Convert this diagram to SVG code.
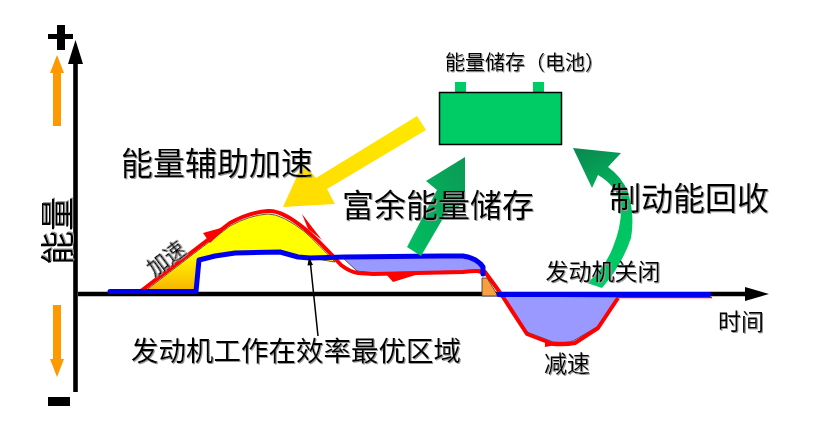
<svg xmlns="http://www.w3.org/2000/svg" width="827" height="430" viewBox="0 0 827 430">
<defs>
<style>
text{font-family:"Noto Sans CJK SC","Noto Sans",sans-serif;fill:#000;text-anchor:middle;dominant-baseline:central;filter:url(#ts)}
.ax{stroke:#000;stroke-width:4.6;fill:none}
.blue{stroke:#0000f0;stroke-width:5;fill:none;stroke-linejoin:round;stroke-linecap:round}
.red{fill:none;stroke:#f00;stroke-width:4;stroke-linejoin:round}
.spike{fill:#f00}
.edge{stroke:#333;stroke-width:.8}
</style>
<filter id="ts" x="-10%" y="-10%" width="120%" height="130%"><feDropShadow dx="1" dy="1" stdDeviation=".6" flood-color="#999"/></filter>
<linearGradient id="yo" x1="0" y1="0" x2="0" y2="1"><stop offset="0" stop-color="#ffff00"/><stop offset=".5" stop-color="#ffff00"/><stop offset="1" stop-color="#f8b000"/></linearGradient>
<linearGradient id="yl" x1="0" y1="1" x2="1" y2="0"><stop offset="0" stop-color="#ffdc00"/><stop offset="1" stop-color="#ffe800"/></linearGradient>
<linearGradient id="g1" x1="0" y1="1" x2="1" y2="0"><stop offset="0" stop-color="#00bf60"/><stop offset="1" stop-color="#0c9a55"/></linearGradient>
<linearGradient id="g2" x1=".4" y1="1" x2=".2" y2="0"><stop offset="0" stop-color="#00cc66"/><stop offset=".5" stop-color="#00c060"/><stop offset="1" stop-color="#0a8a50"/></linearGradient>
</defs>

<g id="curve-fills">
<path id="fill-accel" d="M145 291L230 226Q250 215 268 214Q282 214 305 232Q318 244 335 262L310 258L298 256L280 252L235 253L215 256L199 260L196 292Z" fill="url(#yo)" class="edge"/>
<path id="fill-surplus" d="M343 258L357 271L373 273L463 271Q476 270 483 275L483 264L476 258L463 256Z" fill="#9999ff" class="edge"/>
<path id="fill-decel" d="M503 296L527 332L553 342Q566 343 573 341L597 327L618 297Z" fill="#9999ff" class="edge"/>
</g>

<g id="connectors">
<path id="axis-y" class="ax" d="M75.500 64V392"/>
<path id="axis-y-head" d="M75.500 40L83 64H68Z"/>
<path id="axis-x" class="ax" d="M78 294H746"/>
<path id="axis-x-head" d="M769 294L745 287V301Z"/>
<path id="red-curve" class="red" d="M141 291L230 223Q250 212 268 211Q282 210 305 229Q318 240 330 253L341 265Q350 272 358 273L373 274L463 272Q478 270 485 272L496 287L503 297L527 334L553 344Q566 345 575 343L598 328L618 298"/>
<path id="red-tail" d="M616 297.500H712" stroke="#f00" stroke-width="1.500" fill="none"/>
<path class="spike" d="M203 233L228 226L210 243Z"/>
<path class="spike" d="M302 214L322 240L308 229Z"/>
<path class="spike" d="M393 282L422 273L385 273Z"/>
<path class="spike" d="M545 347L572 342L545 342Z"/>
<path id="fill-gap" d="M482 278L487 278L498 296L482 296Z" fill="#f8a040" class="edge"/>
<path id="blue-line-1" class="blue" d="M110 291.500H196L199 260L215 256L235 253L280 252L298 257L310 258L345 257L440 256L463 256Q477 258 483 267L483 274"/>
<path id="blue-line-2" class="blue" d="M499 294.500H709" stroke-linecap="butt"/>
<path id="pointer" d="M318 336L310.500 264" stroke="#000" stroke-width="1.500" fill="none"/>
<path id="pointer-head" d="M309 257L313 265L307.500 265.500Z"/>
<path id="arrow-up" d="M53 126V73H50L57 55L64 73H61V126Z" fill="#ff9900"/>
<path id="arrow-down" d="M53 305V359H50L57 377L64 359H61V305Z" fill="#ff9900"/>
<path id="arrow-yellow" d="M417 116L426 130L327 189L335 204L283 207L303 163L316 178Z" fill="url(#yl)"/>
<path id="arrow-green-store" d="M407 247L437 190L426 181L465 157L465 203L445 215L421 256Z" fill="url(#g1)"/>
<path id="arrow-green-regen" d="M573 148L621 153L608 167Q622 177 628 192Q635 215 631 238Q622 265 602 288L587 283Q605 268 613 247Q622 225 621 205Q617 186 598 175L592 188Z" fill="url(#g2)"/>
</g>

<g id="plus"><path d="M48 34H57V25H65V34H73V39H65V50H57V39H48Z" fill="#000"/></g>
<g id="minus"><rect x="48" y="397" width="22" height="9" fill="#000"/></g>

<g id="battery">
<rect x="455" y="82" width="11" height="11" fill="#00cc66"/>
<rect x="533" y="82" width="11" height="11" fill="#00cc66"/>
<rect x="439.500" y="92.500" width="122" height="52" fill="#00cc66" stroke="#000" stroke-width="1.500"/>
<text x="525" y="61" font-size="20">能量储存（电池）</text>
</g>

<g id="labels">
<text x="217" y="161" font-size="32">能量辅助加速</text>
<text x="438" y="203" font-size="32">富余能量储存</text>
<text x="689" y="196" font-size="32">制动能回收</text>
<text x="603" y="270" font-size="23">发动机关闭</text>
<text x="296" y="349" font-size="27.500">发动机工作在效率最优区域</text>
<text x="567" y="362" font-size="23">减速</text>
<text x="741" y="320" font-size="23">时间</text>
<text x="0" y="0" font-size="21" transform="translate(165 257) rotate(-37)">加速</text>
<text x="0" y="0" font-size="34" transform="translate(55 231) rotate(-90)">能量</text>
</g>
</svg>
